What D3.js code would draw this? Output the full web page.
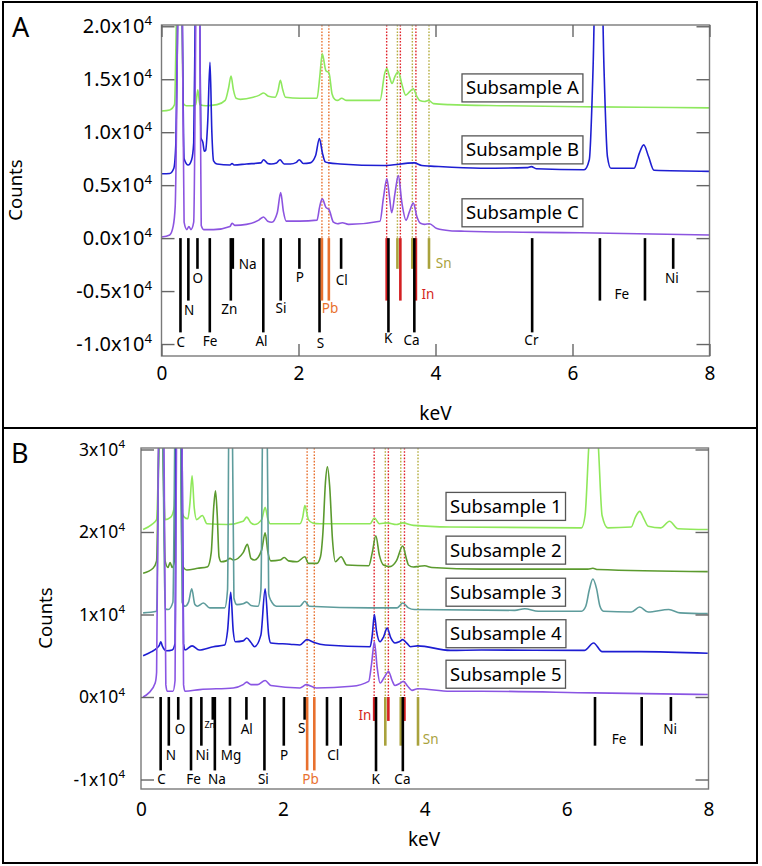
<!DOCTYPE html>
<html><head><meta charset="utf-8">
<script src="https://cdn.jsdelivr.net/npm/d3@7"></script>
<style>body{margin:0;background:#fff}svg{display:block}text{font-family:'Noto Sans','Open Sans',sans-serif}</style>
</head><body><svg id="c" width="762" height="866"></svg>
<script>
// ---------- DATA ----------
const energyTicks = [0, 2, 4, 6, 8];
const countTicksA = [-10000, -5000, 0, 5000, 10000, 15000, 20000];
const countTicksB = [-10000, 0, 10000, 20000, 30000];

const namesA = ["Subsample A", "Subsample B", "Subsample C"];
const namesB = ["Subsample 1", "Subsample 2", "Subsample 3", "Subsample 4", "Subsample 5"];

// Panel A spectra [keV, counts]
const specA1 = [[0.00,12000],[0.12,12100],[0.19,12600],[0.215,20000],[0.26,40000],[0.30,20000],[0.32,12700],[0.36,12500],[0.45,12500],[0.50,12600],[0.53,14000],[0.56,12600],[0.65,12500],[0.81,12600],[0.93,13000],[0.98,14200],[1.015,15300],[1.05,14000],[1.09,13200],[1.15,13100],[1.34,13300],[1.43,13500],[1.49,13700],[1.56,13400],[1.66,13300],[1.70,13900],[1.735,14900],[1.77,14000],[1.81,13300],[2.02,13200],[2.27,13200],[2.31,15200],[2.347,17400],[2.40,15800],[2.445,15600],[2.49,13600],[2.53,13100],[2.57,13000],[2.63,13200],[2.70,13000],[3.19,13000],[3.26,15600],[3.29,16000],[3.33,15200],[3.365,14600],[3.41,15300],[3.457,15700],[3.51,14500],[3.565,13500],[3.62,13800],[3.676,14100],[3.725,13400],[3.77,13000],[3.84,12900],[3.90,13000],[3.97,12700],[4.20,12600],[5.00,12500],[6.12,12400],[7.00,12350],[8.00,12300]];
const specA2 = [[0.00,6070],[0.12,6100],[0.18,6600],[0.21,9000],[0.235,20000],[0.27,45000],[0.305,20000],[0.33,7500],[0.39,6900],[0.44,7400],[0.47,9000],[0.49,20000],[0.525,45000],[0.56,20000],[0.575,9500],[0.605,9000],[0.625,8200],[0.645,8300],[0.675,11000],[0.708,16600],[0.735,10000],[0.76,7300],[0.81,7000],[1.00,6900],[1.03,7050],[1.06,6900],[1.24,7000],[1.45,7100],[1.49,7400],[1.55,7050],[1.60,7000],[1.68,7100],[1.73,7400],[1.79,7000],[1.88,7000],[1.97,7150],[2.01,7400],[2.07,7050],[2.17,7100],[2.25,7800],[2.305,9400],[2.35,8000],[2.39,7200],[2.445,7100],[2.61,7000],[3.24,6850],[3.69,7100],[3.80,6850],[3.93,6800],[4.66,6600],[5.33,6650],[5.40,6750],[5.47,6550],[6.17,6450],[6.245,7400],[6.30,16000],[6.38,40000],[6.46,16000],[6.51,7700],[6.56,6600],[6.90,6600],[6.975,8000],[7.04,8800],[7.11,7700],[7.19,6400],[8.00,6300]];
const specA3 = [[0.00,100],[0.12,300],[0.17,1100],[0.20,3000],[0.235,20000],[0.27,45000],[0.305,20000],[0.33,1500],[0.37,800],[0.40,1100],[0.43,800],[0.47,1500],[0.50,20000],[0.53,45000],[0.56,20000],[0.58,1200],[0.62,800],[0.76,800],[1.00,1100],[1.03,1400],[1.07,1200],[1.24,1300],[1.42,1700],[1.49,2000],[1.55,1600],[1.61,1500],[1.69,2400],[1.74,4300],[1.78,2500],[1.82,1600],[2.02,1600],[2.27,1700],[2.31,3000],[2.347,3700],[2.40,2900],[2.445,2700],[2.51,1500],[2.57,1350],[2.64,1450],[2.73,1300],[3.19,1600],[3.24,3800],[3.29,5600],[3.33,3800],[3.36,2400],[3.41,4300],[3.457,5900],[3.51,3300],[3.57,1700],[3.62,2500],[3.676,3300],[3.73,2000],[3.78,1400],[3.84,1300],[3.91,1350],[4.02,900],[4.21,700],[4.42,650],[6.12,500],[8.00,300]];

// Panel B spectra [keV, counts]
const specB1 = [[0.03,20300],[0.15,20900],[0.22,21500],[0.25,30000],[0.28,40000],[0.31,30000],[0.34,21500],[0.42,21800],[0.47,23100],[0.51,40000],[0.55,40000],[0.575,22500],[0.61,21800],[0.66,21600],[0.69,23500],[0.72,26800],[0.75,23000],[0.785,21500],[0.865,22000],[0.93,21000],[1.21,20900],[1.44,21300],[1.49,21800],[1.55,21100],[1.60,20900],[1.70,21500],[1.75,23000],[1.79,21500],[1.82,21000],[2.24,21000],[2.28,21800],[2.31,23200],[2.36,21500],[2.42,21100],[2.52,21000],[3.23,21000],[3.29,21700],[3.36,21000],[3.47,21100],[3.60,20900],[3.69,21100],[3.84,20800],[4.36,20600],[6.21,20500],[6.26,22000],[6.31,30000],[6.38,40000],[6.45,30000],[6.50,22000],[6.58,20500],[6.91,20600],[6.97,21800],[7.03,22500],[7.09,21600],[7.15,20700],[7.33,20500],[7.45,21300],[7.57,20400],[7.99,20300]];
const specB2 = [[0.03,15000],[0.17,15600],[0.22,16500],[0.25,30000],[0.28,40000],[0.31,30000],[0.34,16500],[0.38,15700],[0.41,16300],[0.44,15700],[0.47,16500],[0.51,40000],[0.55,40000],[0.58,16000],[0.645,15400],[0.80,15600],[0.94,15800],[0.99,17500],[1.025,23000],[1.05,25000],[1.075,22000],[1.10,17000],[1.13,16400],[1.20,16500],[1.255,16800],[1.30,16600],[1.44,17500],[1.50,18500],[1.55,16800],[1.60,16600],[1.70,17800],[1.75,19900],[1.79,17500],[1.83,16500],[1.96,16600],[2.02,16900],[2.08,16500],[2.20,16400],[2.31,17000],[2.36,16200],[2.48,16200],[2.53,17000],[2.565,20000],[2.60,26000],[2.628,27900],[2.66,25500],[2.70,19000],[2.74,16400],[2.82,17000],[2.90,16000],[3.21,15900],[3.26,17500],[3.31,19550],[3.36,17200],[3.42,16000],[3.51,15800],[3.60,16500],[3.69,18300],[3.74,16800],[3.77,16000],[3.84,15750],[3.92,15850],[4.00,15900],[4.10,15700],[4.80,15500],[6.30,15500],[6.37,15600],[6.44,15450],[7.99,15200]];
const specB3 = [[0.03,10200],[0.22,10400],[0.25,30000],[0.28,40000],[0.31,30000],[0.34,10700],[0.385,10600],[0.45,11500],[0.49,40000],[0.55,40000],[0.58,11500],[0.62,11000],[0.67,11500],[0.715,13100],[0.76,11200],[0.795,11000],[0.88,11400],[0.97,10800],[1.18,10800],[1.22,13000],[1.245,40000],[1.28,40000],[1.31,12000],[1.35,11200],[1.44,11300],[1.49,11500],[1.55,11100],[1.65,11000],[1.69,13000],[1.725,40000],[1.77,40000],[1.80,12500],[1.83,11700],[1.91,11000],[2.24,11000],[2.31,11600],[2.37,11000],[3.23,10800],[3.61,10800],[3.69,11400],[3.77,10800],[3.855,10600],[5.27,10500],[5.41,10700],[5.60,10400],[6.21,10400],[6.27,11000],[6.32,13000],[6.37,14300],[6.42,13200],[6.47,11000],[6.52,10400],[6.91,10300],[7.03,10900],[7.15,10300],[7.44,10600],[7.60,10200],[7.99,10100]];
const specB4 = [[0.03,5000],[0.15,5500],[0.22,5900],[0.26,6300],[0.28,6700],[0.30,6200],[0.36,5600],[0.44,5700],[0.48,6500],[0.50,40000],[0.57,40000],[0.60,6500],[0.62,5700],[0.72,6200],[0.82,5700],[1.02,6100],[1.18,6300],[1.22,8000],[1.265,12700],[1.30,8000],[1.33,6700],[1.44,6800],[1.49,7150],[1.55,6600],[1.60,6100],[1.69,7500],[1.75,13100],[1.80,7500],[1.83,6550],[2.10,6400],[2.24,6300],[2.34,6950],[2.44,6600],[2.60,6300],[3.23,6100],[3.26,7500],[3.29,10000],[3.32,8000],[3.37,6700],[3.42,7300],[3.47,8350],[3.52,7200],[3.58,6550],[3.64,6700],[3.69,6950],[3.75,6500],[3.80,6100],[3.90,6200],[4.36,5650],[4.80,5700],[6.25,5650],[6.38,6550],[6.50,5500],[7.03,5500],[7.99,5300]];
const specB5 = [[0.03,0],[0.11,500],[0.20,1700],[0.22,3000],[0.245,30000],[0.28,45000],[0.325,30000],[0.35,1500],[0.37,700],[0.45,700],[0.48,2000],[0.50,30000],[0.54,45000],[0.58,30000],[0.60,1500],[0.62,700],[0.83,900],[1.30,1100],[1.44,1500],[1.49,1800],[1.55,1500],[1.64,1500],[1.75,2000],[1.83,1400],[2.24,1100],[2.33,1500],[2.47,1100],[2.97,1300],[3.21,1900],[3.25,4000],[3.29,6700],[3.33,3500],[3.37,1700],[3.43,2400],[3.49,3100],[3.54,2000],[3.58,1400],[3.64,1600],[3.70,1900],[3.76,1300],[3.82,800],[3.90,1000],[4.36,700],[4.80,700],[6.38,500],[7.99,300]];

// Element lines: [family, keV, end counts]
const elemLinesA = [["In",3.287,-5900],["In",3.487,-5900],["In",3.714,-5900],["Sn",3.444,-2900],["Sn",3.662,-2900],["Sn",3.905,-2900],
 ["el",0.277,-8900],["el",0.392,-5900],["el",0.525,-2900],["el",0.705,-8900],["el",1.012,-5900],["el",1.041,-2900],["el",1.486,-8900],["el",1.740,-5900],["el",2.013,-2900],["el",2.307,-8900],["Pb",2.342,-5900],["Pb",2.443,-5900],["el",2.622,-2900],["el",3.313,-8900],["el",3.691,-8900],["el",5.411,-8900],["el",6.400,-5900],["el",7.058,-5900],["el",7.470,-2900]];
const elemLinesB = [["In",3.287,-2900],["In",3.487,-2900],["In",3.714,-2900],["Sn",3.444,-5900],["Sn",3.662,-5900],["Sn",3.905,-5900],
 ["el",0.277,-8900],["el",0.392,-5900],["el",0.525,-2750],["el",0.705,-8900],["el",0.851,-5900],["el",1.012,-2750],["el",1.041,-8900],["el",1.254,-5900],["el",1.486,-2750],["el",1.740,-8900],["el",2.013,-5900],["el",2.307,-2750],["Pb",2.342,-8900],["Pb",2.443,-8900],["el",2.622,-5900],["el",2.815,-5900],["el",3.313,-9000],["el",3.691,-9000],["el",6.400,-5900],["el",7.058,-5900],["el",7.470,-2900]];

// Element labels: [text, keV, counts (centre), anchor]
const elemLabelsA = [["C",0.28,-9850,"middle"],["N",0.405,-6770,"middle"],["O",0.53,-3770,"middle"],["Fe",0.708,-9750,"middle"],["Zn",0.99,-6670,"middle"],["Na",1.10,-2450,"start"],["Al",1.46,-9750,"middle"],["Si",1.745,-6600,"middle"],["P",2.02,-3650,"middle"],["S",2.32,-9900,"middle"],["Pb",2.46,-6600,"middle"],["Cl",2.63,-3930,"middle"],["K",3.31,-9430,"middle"],["Ca",3.65,-9600,"middle"],["In",3.765,-5250,"start"],["Sn",3.975,-2360,"start"],["Cr",5.40,-9600,"middle"],["Fe",6.72,-5300,"middle"],["Ni",7.45,-3770,"middle"]];
const elemLabelsB = [["C",0.29,-10000,"middle"],["N",0.42,-7000,"middle"],["O",0.55,-3900,"middle"],["Fe",0.74,-10000,"middle"],["Ni",0.865,-7000,"middle"],["Zn",0.97,-3350,"middle"],["Na",1.07,-10000,"middle"],["Mg",1.27,-7000,"middle"],["Al",1.49,-3900,"middle"],["Si",1.725,-10000,"middle"],["P",2.017,-7000,"middle"],["S",2.265,-3750,"middle"],["Pb",2.39,-10000,"middle"],["Cl",2.71,-7000,"middle"],["K",3.31,-9900,"middle"],["In",3.275,-2150,"end"],["Ca",3.685,-9900,"middle"],["Sn",3.945,-5100,"start"],["Fe",6.74,-5050,"middle"],["Ni",7.46,-3950,"middle"]];

// Dotted reference energies
const dottedEnergies = [["Pb",2.342],["Pb",2.443],["In",3.287],["Sn",3.444],["In",3.487],["Sn",3.662],["In",3.714],["Sn",3.905]];

// ---------- STYLE ----------
const famColor = {el:"#000000", Pb:"#e8702e", In:"#d41f22", Sn:"#a9a23c"};
const dotColor = {Pb:"#e8702e", In:"#e0222a", Sn:"#b4ad3e"};

const svg = d3.select("#c");

// outer panel frames
svg.append("rect").attr("x",3).attr("y",2).attr("width",754).attr("height",426).attr("fill","none").attr("stroke","#000").attr("stroke-width",2);
svg.append("rect").attr("x",3).attr("y",428).attr("width",754).attr("height",435).attr("fill","none").attr("stroke","#000").attr("stroke-width",2);

function drawPanel(c) {
  const x = d3.scaleLinear().domain([0,8]).range([c.left, c.right]);
  const y = d3.scaleLinear().domain(c.yDomain).range([c.bottom, c.top]);
  const g = svg.append("g");
  const clipId = "clip" + c.id;
  svg.append("clipPath").attr("id", clipId).append("rect")
    .attr("x", c.left).attr("y", c.top).attr("width", c.right - c.left).attr("height", c.bottom - c.top);

  // dotted reference lines
  g.append("g").selectAll("line").data(dottedEnergies).join("line")
    .attr("x1", d => x(d[1])).attr("x2", d => x(d[1]))
    .attr("y1", y(c.yDomain[1])).attr("y2", y(0))
    .attr("stroke", d => dotColor[d[0]]).attr("stroke-width", 1.4).attr("stroke-dasharray", "1.6,1.6");

  // spectra
  const line = d3.line().x(d => x(d[0])).y(d => y(d[1])).curve(d3.curveMonotoneX);
  const sg = g.append("g").attr("clip-path", `url(#${clipId})`);
  c.series.forEach((s, i) => {
    sg.append("path").datum(s).attr("d", line).attr("fill", "none")
      .attr("stroke", c.colors[i]).attr("stroke-width", 1.6).attr("stroke-linejoin","round");
  });

  // element lines
  g.append("g").selectAll("line").data(c.elemLines).join("line")
    .attr("x1", d => x(d[1])).attr("x2", d => x(d[1]))
    .attr("y1", y(0)).attr("y2", d => y(d[2]))
    .attr("stroke", d => famColor[d[0]]).attr("stroke-width", 2.6);

  // element labels
  g.append("g").selectAll("text").data(c.elemLabels).join("text")
    .attr("x", d => x(d[1]) + (d[3]==="start" ? 2 : d[3]==="end" ? -2 : 0))
    .attr("y", d => y(d[2]))
    .attr("dy", "0.36em")
    .attr("text-anchor", d => d[3])
    .attr("font-size", d => (c.id==="B" && d[0]==="Zn") ? 9 : 13.5)
    .attr("fill", d => famColor[d[0]] || "#000")
    .text(d => d[0]);

  // frame
  g.append("rect").attr("x", c.left).attr("y", c.top).attr("width", c.right-c.left).attr("height", c.bottom-c.top)
    .attr("fill","none").attr("stroke","#7a7a7a").attr("stroke-width",1.4);

  // axes
  const styleAxis = sel => { sel.select(".domain").remove(); sel.selectAll(".tick line").attr("stroke","#666").attr("stroke-width",1.4); };
  const ax = g.append("g").attr("transform", `translate(0,${c.bottom})`)
    .call(d3.axisBottom(x).tickValues(energyTicks).tickSizeInner(c.xTicks ? -12 : 0).tickSizeOuter(0).tickPadding(c.xPad).tickFormat(d3.format("d")));
  styleAxis(ax);
  ax.selectAll("text").attr("font-size", 19).attr("font-family","'Noto Sans',sans-serif").attr("fill","#000");
  if (c.xTicks) {
    const at = g.append("g").attr("transform", `translate(0,${c.top})`)
      .call(d3.axisTop(x).tickValues(energyTicks).tickSizeInner(-12).tickSizeOuter(0).tickFormat(""));
    styleAxis(at);
  }
  const ay = g.append("g").attr("transform", `translate(${c.left},0)`)
    .call(d3.axisLeft(y).tickValues(c.yTicks).tickSizeInner(-13).tickSizeOuter(0).tickPadding(c.yPad));
  styleAxis(ay);
  ay.selectAll(".tick text").each(function(d) {
    const t = d3.select(this);
    t.text(null).attr("font-size", c.yFont).attr("font-family","'Noto Sans',sans-serif").attr("fill","#000");
    t.append("tspan").text((d/10000).toFixed(c.yDec) + "x10");
    t.append("tspan").attr("dy", -c.yFont*0.42).attr("font-size", c.yFont*0.66).text("4");
  });
  const ar = g.append("g").attr("transform", `translate(${c.right},0)`)
    .call(d3.axisRight(y).tickValues(c.yTicks).tickSizeInner(-13).tickSizeOuter(0).tickFormat(""));
  styleAxis(ar);

  // axis titles
  g.append("text").attr("x", x(c.xTitleAt)).attr("y", c.xTitleY).attr("text-anchor","middle").attr("font-size",19).text("keV");
  g.append("text").attr("transform", `translate(${c.yTitleX},${c.yTitleY}) rotate(-90)`).attr("text-anchor","middle")
    .attr("dy","0.35em").attr("font-size",18.5).text("Counts");
  g.append("text").attr("x", c.tagX).attr("y", c.tagY).attr("font-size",27).text(c.id);

  // legend boxes
  c.names.forEach((n, i) => {
    const lg = g.append("g");
    const t = lg.append("text").attr("x", x(c.boxKeV) + 4).attr("y", y(c.boxCounts[i])).attr("dy","0.35em")
      .attr("font-size",18.5).text(n);
    const bb = t.node().getBBox();
    lg.insert("rect","text").attr("x", x(c.boxKeV)).attr("y", y(c.boxCounts[i]) - 14)
      .attr("width", bb.width + 8).attr("height", 28).attr("fill","#fff").attr("stroke","#555").attr("stroke-width",1.3);
  });
}

drawPanel({
  id:"A", left:161.5, right:709.5, top:25, bottom:356, yDomain:[-11130, 20120],
  series:[specA1, specA2, specA3], colors:["#8ee85e","#1e1ed2","#8c54e0"],
  elemLines: elemLinesA, elemLabels: elemLabelsA, yTicks: countTicksA, yDec:1, yFont:20, yPad:9.5,
  xTicks:true, xPad:11, xTitleAt:4, xTitleY:420, yTitleX:16, yTitleY:190, tagX:12, tagY:37,
  names:namesA, boxKeV:4.387, boxCounts:[14180, 8330, 2390]
});
drawPanel({
  id:"B", left:141, right:708.5, top:448, bottom:789, yDomain:[-11150, 30180],
  series:[specB1, specB2, specB3, specB4, specB5], colors:["#8fe85a","#5b9a2e","#5e9c9c","#1d1dd2","#8a55e3"],
  elemLines: elemLinesB, elemLabels: elemLabelsB, yTicks: countTicksB, yDec:0, yFont:17.5, yPad:16,
  xTicks:false, xPad:14, xTitleAt:3.99, xTitleY:846, yTitleX:46, yTitleY:618, tagX:11, tagY:463,
  names:namesB, boxKeV:4.30, boxCounts:[23100, 17800, 12700, 7670, 2760]
});
</script></body></html>
